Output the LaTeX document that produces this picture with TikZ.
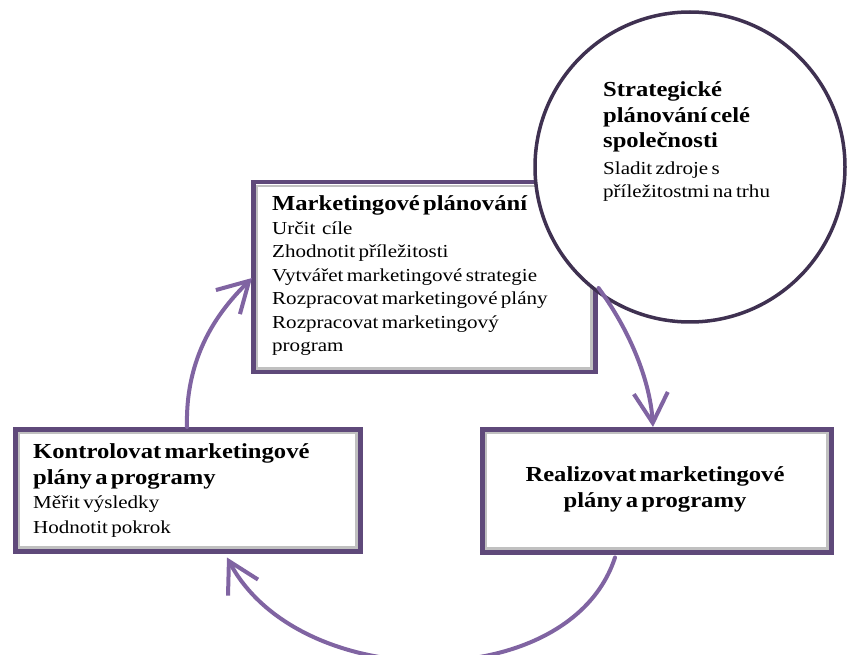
\documentclass[tikz,border=0pt]{standalone}
\usepackage{fontspec}
\setmainfont{Liberation Serif}[FakeStretch=1.15]
\usetikzlibrary{arrows.meta,calc}
\definecolor{boxc}{RGB}{95,73,122}
\definecolor{arrowc}{RGB}{128,100,162}
\definecolor{circc}{RGB}{63,49,81}
\definecolor{grayc}{RGB}{192,192,192}
\newcommand\ttlfont{\fontsize{21.4}{26}\selectfont\bfseries}
\newcommand\bdyfont[1]{\fontsize{18.3}{#1}\selectfont}
\begin{document}
\begin{tikzpicture}[x=1pt,y=-1pt,
  outerbox/.style={draw=boxc,line width=4.5pt,fill=white,rectangle,inner sep=0pt,anchor=north west},
  innerline/.style={draw=grayc,line width=2.2pt},
  txt/.style={inner sep=0pt,anchor=base west,align=left},
  cyc/.style={draw=arrowc,line width=4pt,line cap=round,
    -{Straight Barb[length=30pt,width=34pt,line width=4pt]}}]
\useasboundingbox (0,0) rectangle (847,655);
\clip (0,0) rectangle (847,655);
% boxes
\node[outerbox,minimum width=342pt,minimum height=190pt] (mk) at (251,180) {};
\draw[innerline] ([shift={(6,6)}]mk.north west) rectangle ([shift={(-6,-6)}]mk.south east);
\node[outerbox,minimum width=345pt,minimum height=122pt] (ko) at (13,427) {};
\draw[innerline] ([shift={(6,6)}]ko.north west) rectangle ([shift={(-6,-6)}]ko.south east);
\node[outerbox,minimum width=349pt,minimum height=123pt] (re) at (480,427) {};
\draw[innerline] ([shift={(6,6)}]re.north west) rectangle ([shift={(-6,-6)}]re.south east);
% circle
\node[circle,draw=circc,line width=3.5pt,fill=white,minimum size=310pt,inner sep=0pt] (sp) at (690,167) {};
% texts
\node[txt,text width=320pt] (mkt) at (272,211)
  {{\ttlfont Marketingové plánování\par}%
   {\bdyfont{23.5}Určit\ \ cíle\par Zhodnotit příležitosti\par Vytvářet marketingové strategie\par
   Rozpracovat marketingové plány\par Rozpracovat marketingový\par program\par}};
\node[txt,text width=220pt] (spt) at (603,97)
  {{\ttlfont\baselineskip=25.5pt Strategické\par plánování celé\par společnosti\par}%
   {\bdyfont{23.5}\vspace{3pt}Sladit zdroje s\par příležitostmi na trhu\par}};
\node[txt,text width=320pt] (kot) at (33,458)
  {{\ttlfont Kontrolovat marketingové\par plány a programy\par}%
   {\bdyfont{24.5}Měřit výsledky\par Hodnotit pokrok\par}};
\node[inner sep=0pt,anchor=base,align=center,text width=340pt] (ret) at (655,481)
  {{\ttlfont Realizovat marketingové\par plány a programy\par}};
% cycle arrows
\draw[cyc] ($(ko.north west)+(174,0)$) .. controls +(-2,-78) and +(-27,27) .. ($(mk.north west)+(1,98)$);
\draw[cyc] ($(mk.north east)+(1,108)$) .. controls +(31,42) and +(-3,-47) .. ($(re.north west)+(173,0)$);
\draw[cyc] ($(re.south west)+(135,3)$) .. controls +(-45,138) and +(73,137) .. ($(ko.south west)+(214,4)$);
\end{tikzpicture}
\end{document}
